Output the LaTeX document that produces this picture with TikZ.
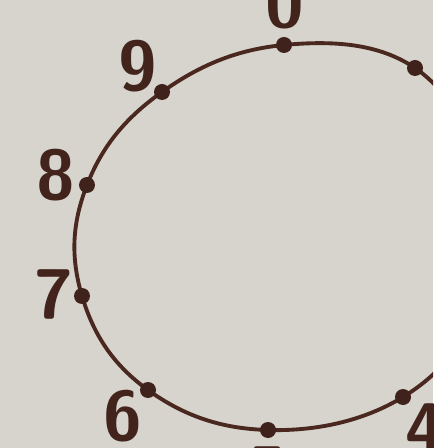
\documentclass[tikz,border=0pt]{standalone}
\usepackage{tikz}
\definecolor{paper}{RGB}{214,212,204}
\definecolor{ink}{RGB}{74,40,32}

\begin{document}
\begin{tikzpicture}[x=0.02cm, y=-0.02cm,
        dot/.style = {circle, fill=ink!85!black, inner sep=0pt, minimum size=0.32cm},
        digit/.style = {text=ink!90!black, font=\fontsize{40}{40}\sffamily\bfseries, inner sep=0pt},
      ]
      \fill[paper] (0,0) rectangle (433,448);
      \useasboundingbox (0,0) rectangle (433,448);
      \clip (0,0) rectangle (433,448);
      % points of the dial
      \coordinate (p0) at (284,45);
      \coordinate (p1) at (415,68);
      \coordinate (p2) at (480,178);
      \coordinate (p3) at (478,302);
      \coordinate (p4) at (403,397);
      \coordinate (p5) at (268,430);
      \coordinate (p6) at (148,390);
      \coordinate (p7) at (82,296);
      \coordinate (p8) at (87,185);
      \coordinate (p9) at (162,92);
      \draw[ink, line width=2.2pt] plot[smooth cycle, tension=0.68] coordinates {(p0) (p1) (p2) (p3) (p4) (p5) (p6) (p7) (p8) (p9)};
      \foreach \k in {0,1,4,5,6,7,8,9}
        \node[dot] (d\k) at (p\k) {};
      % digits
      \node[digit] (n0) at (285,3) {0};
      \node[digit] (n9) at (138,66) {9};
      \node[digit] (n8) at (56,175) {8};
      \node[digit] (n7) at (54,294) {7};
      \node[digit] (n6) at (123,416) {6};
      \node[digit] (n5) at (268,472) {5};
      \node[digit] (n4) at (425,428) {4};
    \end{tikzpicture}
\end{document}
